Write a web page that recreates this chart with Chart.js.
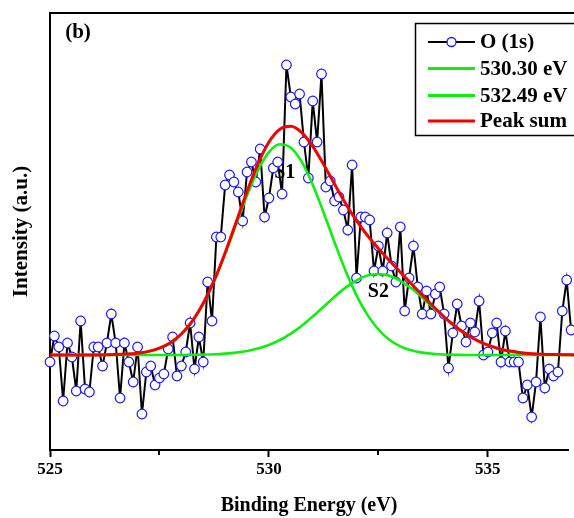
<!DOCTYPE html>
<html>
<head>
<meta charset="utf-8">
<script src="https://cdn.jsdelivr.net/npm/chart.js@4.4.1/dist/chart.umd.min.js"></script>
<style>
  html, body { margin: 0; padding: 0; background: #fff; }
  #wrap { width: 574px; height: 518px; }
</style>
</head>
<body>
<div id="wrap"><canvas id="xps" width="574" height="518"></canvas></div>
<script>
// O 1s raw spectrum, one value every 0.1 eV from 525.0 eV
const dataStart = 525.0;
const dataStep = 0.1;
const oIntensity = [
  88, 114, 103, 49, 107, 93, 59, 129, 61, 58,
  103, 103, 84, 107, 136, 107, 52, 107, 88, 68,
  103, 36, 78, 84, 65, 72, 76, 101, 113, 74,
  84, 98, 127, 81, 113, 88, 168, 129, 213, 213,
  265, 275, 268, 258, 229, 278, 288, 268, 301, 233,
  252, 282, 288, 256, 385, 353, 346, 356, 308, 272,
  349, 308, 376, 263, 269, 249, 253, 240, 220, 285,
  172, 233, 233, 230, 179, 204, 179, 217, 184, 168,
  223, 139, 172, 204, 163, 136, 159, 136, 156, 163,
  136, 82, 117, 146, 124, 108, 127, 118, 149, 95,
  98, 117, 127, 88, 119, 88, 88, 88, 52, 65,
  33, 68, 133, 62, 81, 74, 78, 139, 170, 120
];

// fitted curves, one value every 0.25 eV from 525.0 eV
const fitStart = 525.0;
const fitStep = 0.25;
const peak1 = [ // 530.30 eV
  95, 95, 95, 95, 95, 95.2, 95.4, 95.9, 96.8, 98.6,
  101.9, 107.3, 116.0, 128.7, 146.3, 168.9, 195.9, 225.4, 254.6, 279.9,
  297.9, 305.8, 302.3, 288.1, 265.3, 237.3, 207.5, 179.2, 154.7, 135.1,
  120.5, 110.3, 103.7, 99.7, 97.4, 96.2, 95.5, 95.2, 95, 95,
  95, 95, 95, 95, 95, 95, 95, 95, 95
];
const peak2 = [ // 532.49 eV
  95, 95, 95, 95, 95, 95, 95, 95, 95, 95,
  95, 95, 95, 95.2, 95.4, 95.7, 96.4, 97.4, 99.0, 101.5,
  105.1, 110.0, 116.4, 124.3, 133.4, 143.3, 153.3, 162.4, 169.7, 174.4,
  176.0, 174.2, 169.2, 161.7, 152.5, 142.5, 132.7, 123.6, 115.9, 109.6,
  104.8, 101.3, 98.9, 97.3, 96.3, 95.7, 95.4, 95.2, 95.1
];
const peakSum = [
  95, 95, 95, 95, 95, 95.2, 95.4, 95.9, 96.8, 98.6,
  101.9, 107.3, 116.0, 128.9, 146.7, 169.6, 197.3, 227.8, 258.6, 286.4,
  308.0, 320.8, 323.7, 317.4, 303.7, 285.6, 265.8, 246.6, 229.4, 214.5,
  201.5, 189.5, 177.9, 166.4, 154.9, 143.7, 133.2, 123.8, 115.9, 109.6,
  104.8, 101.3, 98.9, 97.3, 96.3, 95.7, 95.4, 95.2, 95.1
];

const seriesLabels = ['O (1s)', '530.30 eV', '532.49 eV', 'Peak sum'];
const xTicks = [525, 530, 535];
const xMinorTicks = [527.5, 532.5];

const toPoints = (vals, start, step) =>
  vals.map((v, i) => ({ x: +(start + i * step).toFixed(2), y: v }));

const FONT = "'Liberation Serif', 'Times New Roman', serif";
const GREEN = '#10ee10';
const RED = '#f20000';
const BLUE = '#1a1aff';

const extras = {
  id: 'extras',
  beforeDatasetsDraw(chart) {
    const { ctx, chartArea, scales } = chart;
    ctx.save();
    ctx.fillStyle = '#000';
    ctx.font = 'bold 21px ' + FONT;
    ctx.textAlign = 'center';
    ctx.textBaseline = 'middle';
    ctx.fillText('(b)', chartArea.left + 28, chartArea.top + 20);
    ctx.font = 'bold 20px ' + FONT;
    ctx.fillText('S1', scales.x.getPixelForValue(530.36), scales.y.getPixelForValue(277));
    ctx.fillText('S2', scales.x.getPixelForValue(532.5), scales.y.getPixelForValue(158));
    ctx.restore();
  },
  afterDraw(chart) {
    const { ctx, chartArea, scales } = chart;
    ctx.save();
    ctx.strokeStyle = '#000';
    ctx.lineWidth = 2;
    // top frame line
    ctx.beginPath();
    ctx.moveTo(chartArea.left - 1, chartArea.top);
    ctx.lineTo(chart.width, chartArea.top);
    ctx.stroke();
    // short minor ticks
    xMinorTicks.forEach(v => {
      const px = Math.round(scales.x.getPixelForValue(v));
      ctx.beginPath();
      ctx.moveTo(px, chartArea.bottom);
      ctx.lineTo(px, chartArea.bottom + 5);
      ctx.stroke();
    });

    // legend box
    const bx = 415.5, by = 23.5, bh = 112;
    ctx.fillStyle = '#fff';
    ctx.fillRect(bx, by, chart.width - bx + 5, bh);
    ctx.lineWidth = 1.5;
    ctx.strokeRect(bx, by, chart.width - bx + 5, bh);

    const rows = [42, 68.5, 95.5, 121];
    const ds = chart.data.datasets;
    ds.forEach((d, k) => {
      const y = rows[k];
      ctx.strokeStyle = d.borderColor;
      ctx.lineWidth = k === 0 ? 2 : 3;
      ctx.beginPath();
      ctx.moveTo(428, y);
      ctx.lineTo(475, y);
      ctx.stroke();
      if (k === 0) {
        ctx.beginPath();
        ctx.arc(451.5, y, 4.5, 0, Math.PI * 2);
        ctx.fillStyle = '#fff';
        ctx.fill();
        ctx.strokeStyle = BLUE;
        ctx.lineWidth = 1.3;
        ctx.stroke();
      }
      ctx.fillStyle = '#000';
      ctx.font = 'bold 21px ' + FONT;
      ctx.textAlign = 'left';
      ctx.textBaseline = 'middle';
      ctx.fillText(d.label, 480, y + 1);
    });
    ctx.restore();
  }
};

new Chart(document.getElementById('xps'), {
  type: 'line',
  data: {
    datasets: [
      {
        label: seriesLabels[0],
        data: toPoints(oIntensity, dataStart, dataStep),
        borderColor: '#000',
        borderWidth: 2,
        pointRadius: 4.8,
        pointBorderColor: BLUE,
        pointBackgroundColor: '#fff',
        pointBorderWidth: 1.2,
        tension: 0,
        clip: false,
        order: 3
      },
      {
        label: seriesLabels[1],
        data: toPoints(peak1, fitStart, fitStep),
        borderColor: GREEN,
        borderWidth: 2.6,
        pointRadius: 0,
        cubicInterpolationMode: 'monotone',
        clip: false,
        order: 2
      },
      {
        label: seriesLabels[2],
        data: toPoints(peak2, fitStart, fitStep),
        borderColor: GREEN,
        borderWidth: 2.6,
        pointRadius: 0,
        cubicInterpolationMode: 'monotone',
        clip: false,
        order: 1
      },
      {
        label: seriesLabels[3],
        data: toPoints(peakSum, fitStart, fitStep),
        borderColor: RED,
        borderWidth: 3,
        pointRadius: 0,
        cubicInterpolationMode: 'monotone',
        clip: false,
        order: 0
      }
    ]
  },
  options: {
    responsive: false,
    animation: false,
    devicePixelRatio: 1,
    layout: { padding: { top: 13, left: 0, right: 0, bottom: 0 } },
    plugins: { legend: { display: false }, tooltip: { enabled: false } },
    scales: {
      x: {
        type: 'linear',
        min: 525,
        max: 536.83,
        afterFit: s => { s.height = 68; },
        afterBuildTicks: s => { s.ticks = xTicks.map(v => ({ value: v })); },
        ticks: {
          autoSkip: false,
          maxRotation: 0,
          padding: 2,
          color: '#000',
          font: { family: FONT, size: 17, weight: 'bold' },
          callback: v => String(v)
        },
        grid: {
          drawOnChartArea: false,
          drawTicks: true,
          tickLength: 7,
          tickWidth: 2,
          tickColor: '#000'
        },
        border: { display: true, color: '#000', width: 2 },
        title: {
          display: true,
          text: 'Binding Energy (eV)',
          color: '#000',
          font: { family: FONT, size: 20, weight: 'bold' },
          padding: { top: 0, bottom: 0 }
        }
      },
      y: {
        min: 0,
        max: 437,
        afterFit: s => { s.width = 50; },
        ticks: { display: false },
        grid: { display: false, drawTicks: false },
        border: { display: true, color: '#000', width: 2 },
        title: {
          display: true,
          text: 'Intensity (a.u.)',
          color: '#000',
          font: { family: FONT, size: 21, weight: 'bold' },
          padding: { top: 9, bottom: 0 }
        }
      }
    }
  },
  plugins: [extras]
});
</script>
</body>
</html>
